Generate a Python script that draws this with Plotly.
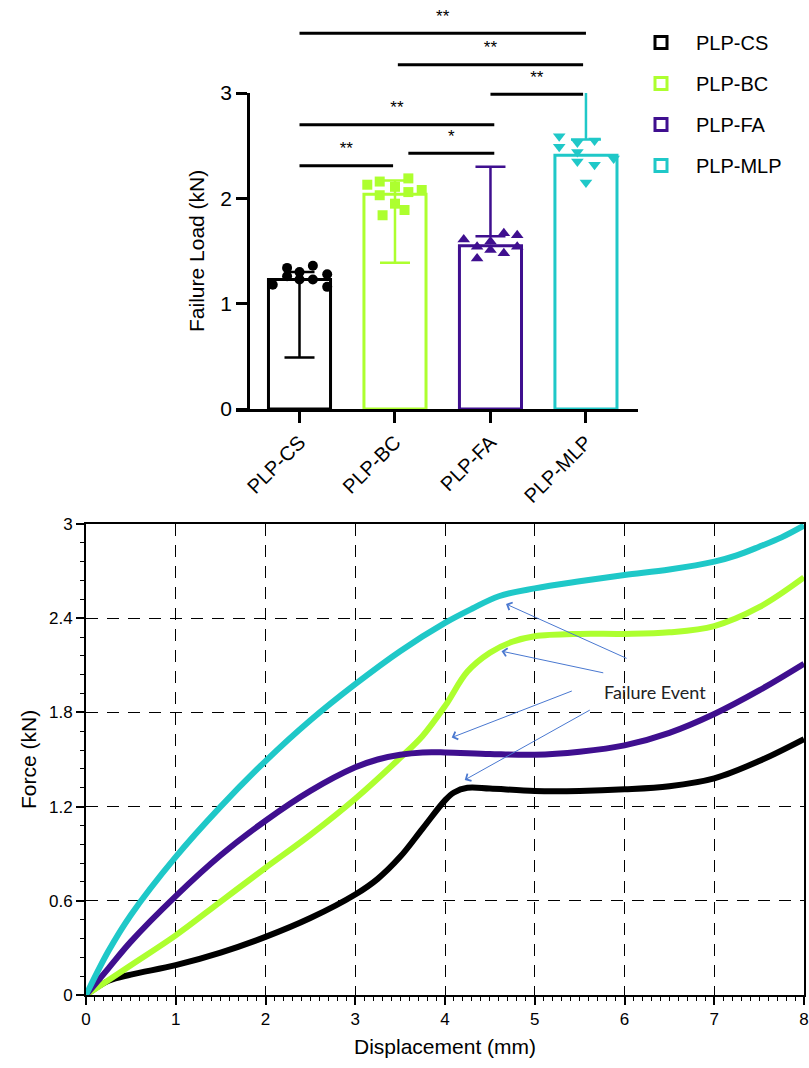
import plotly.graph_objects as go

W, H = 809, 1068

# ---------------- top chart data ----------------
groups = ["PLP-CS", "PLP-BC", "PLP-FA", "PLP-MLP"]
colors = ["#000000", "#ADFF2F", "#3F0F8F", "#1FC8C8"]
means = [1.23, 2.04, 1.55, 2.41]
err_lo = [0.49, 1.39, 1.64, 2.56]
err_hi = [1.30, 2.17, 2.30, 3.10]

cs_pts = [1.18, 1.34, 1.26, 1.30, 1.23, 1.36, 1.23, 1.28, 1.16]
bc_pts = [2.13, 2.16, 2.03, 2.11, 1.95, 1.84, 1.89, 2.19, 2.06, 2.08]
fa_pts = [1.61, 1.54, 1.43, 1.51, 1.59, 1.67, 1.48, 1.65, 1.54]
mlp_pts = [2.59, 2.49, 2.53, 2.44, 2.35, 2.55, 2.32, 2.15, 2.38]

sig_y = [2.31, 2.43, 2.70, 2.99, 3.27, 3.57]
sig_x0 = [0, 1.14, 0, 2.0, 1.03, 0]
sig_x1 = [0.98, 2.04, 2.04, 2.97, 2.97, 3.0]
sig_txt = ["**", "*", "**", "**", "**", "**"]

# ---------------- bottom chart data ----------------
mlp_x = [0, 0.25, 0.5, 1.0, 1.5, 2.0, 2.5, 3.0, 3.5, 4.0, 4.3, 4.6, 5.0, 5.5, 6.0, 6.5, 7.0, 7.25, 7.5, 7.75, 8.0]
mlp_y = [0, 0.28, 0.51, 0.88, 1.20, 1.49, 1.75, 1.98, 2.19, 2.37, 2.46, 2.54, 2.59, 2.635, 2.675, 2.71, 2.76, 2.80, 2.855, 2.915, 2.99]
bc_x = [0, 0.5, 1.0, 1.5, 2.0, 2.5, 3.0, 3.5, 3.75, 4.0, 4.25, 4.5, 4.75, 5.0, 5.5, 6.0, 6.5, 7.0, 7.5, 8.0]
bc_y = [0, 0.19, 0.38, 0.595, 0.81, 1.02, 1.25, 1.51, 1.65, 1.84, 2.06, 2.18, 2.25, 2.285, 2.30, 2.30, 2.31, 2.35, 2.47, 2.66]
fa_x = [0, 0.25, 0.5, 1.0, 1.5, 2.0, 2.5, 3.0, 3.25, 3.5, 3.75, 4.0, 4.5, 5.0, 5.5, 6.0, 6.5, 7.0, 7.5, 8.0]
fa_y = [0, 0.17, 0.34, 0.63, 0.89, 1.11, 1.30, 1.45, 1.50, 1.53, 1.545, 1.545, 1.535, 1.53, 1.55, 1.59, 1.67, 1.79, 1.94, 2.11]
cs_x = [0, 0.25, 0.5, 1.0, 1.5, 2.0, 2.5, 3.0, 3.25, 3.5, 3.75, 4.0, 4.1, 4.25, 4.5, 5.0, 5.5, 6.0, 6.5, 7.0, 7.5, 8.0]
cs_y = [0, 0.09, 0.13, 0.19, 0.27, 0.37, 0.49, 0.64, 0.74, 0.88, 1.06, 1.24, 1.29, 1.32, 1.315, 1.30, 1.30, 1.31, 1.33, 1.38, 1.49, 1.63]

# failure event arrows: (head x, head y, tail x, tail y)
arrow_head_x = [4.68, 4.63, 4.075, 4.22]
arrow_head_y = [2.49, 2.19, 1.64, 1.37]
arrow_tail_x = [6.04, 5.78, 5.43, 5.63]
arrow_tail_y = [2.14, 2.05, 1.94, 1.82]

force_ticks = [0, 0.6, 1.2, 1.8, 2.4, 3]
force_labels = ["0", "0.6", "1.2", "1.8", "2.4", "3"]

# ---------------- figure ----------------
FONT = "Arial, Liberation Sans, sans-serif"
fig = go.Figure()


def px_x(p):
    return p / W


def px_y(p):
    return 1 - p / H


# bars (on x / y2)
for i, g in enumerate(groups):
    fig.add_trace(go.Bar(
        x=[i], y=[means[i]], width=0.65, name=g,
        marker=dict(color="white", line=dict(color=colors[i], width=3)),
        xaxis="x", yaxis="y2", showlegend=True, legendgroup=g,
    ))

# error whiskers
for i, g in enumerate(groups):
    fig.add_trace(go.Scatter(
        x=[i], y=[err_lo[i]], mode="markers", marker=dict(size=1, opacity=0),
        error_y=dict(type="data", symmetric=False, array=[err_hi[i] - err_lo[i]],
                     arrayminus=[0], color=colors[i], thickness=2.5, width=15),
        xaxis="x", yaxis="y2", showlegend=False, hoverinfo="skip",
    ))

# individual points
jitter = {
    0: [-0.28, -0.13, -0.13, 0.0, 0.0, 0.14, 0.14, 0.29, 0.29],
    1: [-0.29, -0.16, -0.16, 0.0, 0.0, -0.13, 0.1, 0.14, 0.14, 0.28],
    2: [-0.28, -0.14, -0.14, 0.0, 0.0, 0.14, 0.14, 0.28, 0.28],
    3: [-0.28, -0.28, -0.09, -0.09, -0.09, 0.09, 0.09, 0.0, 0.29],
}
pts = [cs_pts, bc_pts, fa_pts, mlp_pts]
symbols = ["circle", "square", "triangle-up", "triangle-down"]
sizes = [10, 10, 11, 11]
for i in range(4):
    fig.add_trace(go.Scatter(
        x=[i + j for j in jitter[i]], y=pts[i], mode="markers",
        marker=dict(symbol=symbols[i], size=sizes[i], color=colors[i], line=dict(width=0)),
        xaxis="x", yaxis="y2", showlegend=False, hoverinfo="skip", cliponaxis=False,
    ))

# significance lines
for k in range(len(sig_y)):
    fig.add_trace(go.Scatter(
        x=[sig_x0[k], sig_x1[k]], y=[sig_y[k], sig_y[k]], mode="lines",
        line=dict(color="black", width=3), xaxis="x", yaxis="y",
        showlegend=False, hoverinfo="skip",
    ))
    fig.add_trace(go.Scatter(
        x=[(sig_x0[k] + sig_x1[k]) / 2], y=[sig_y[k] + 0.15], mode="text",
        text=[sig_txt[k]], textfont=dict(size=17, color="black", family=FONT),
        textposition="middle center", xaxis="x", yaxis="y",
        showlegend=False, hoverinfo="skip", cliponaxis=False,
    ))

# bottom curves
curves = [(cs_x, cs_y, colors[0]), (bc_x, bc_y, colors[1]),
          (fa_x, fa_y, colors[2]), (mlp_x, mlp_y, colors[3])]
for cx, cy, col in curves:
    fig.add_trace(go.Scatter(
        x=cx, y=cy, mode="lines", line=dict(color=col, width=6, shape="spline", smoothing=1.0),
        xaxis="x2", yaxis="y3", showlegend=False, hoverinfo="skip",
    ))

annotations = []
for k in range(4):
    annotations.append(dict(
        x=arrow_head_x[k], y=arrow_head_y[k], ax=arrow_tail_x[k], ay=arrow_tail_y[k],
        xref="x2", yref="y3", axref="x2", ayref="y3", text="", showarrow=True,
        arrowhead=4, arrowsize=1.6, arrowwidth=1, arrowcolor="#4A78D0",
    ))
annotations.append(dict(
    x=6.34, y=1.93, xref="x2", yref="y3", text="Failure Event", showarrow=False,
    xanchor="center", yanchor="middle",
    font=dict(family="Lato, Open Sans, sans-serif", size=18, color="#222222"),
))
annotations.append(dict(
    x=px_x(197), y=px_y(251), xref="paper", yref="paper", text="Failure Load (kN)",
    xanchor="center", yanchor="middle",
    textangle=-90, showarrow=False, font=dict(family=FONT, size=21, color="black"),
))
annotations.append(dict(
    x=px_x(28), y=px_y(760), xref="paper", yref="paper", text="Force (kN)",
    xanchor="center", yanchor="middle",
    textangle=-90, showarrow=False, font=dict(family=FONT, size=21, color="black"),
))
annotations.append(dict(
    x=px_x(445), y=px_y(1046), xref="paper", yref="paper", text="Displacement (mm)",
    xanchor="center", yanchor="middle",
    showarrow=False, font=dict(family=FONT, size=21, color="black"),
))

top_bottom = px_y(409)
fig.update_layout(
    width=W, height=H, margin=dict(l=0, r=0, t=0, b=0, autoexpand=False),
    paper_bgcolor="white", plot_bgcolor="rgba(0,0,0,0)",
    font=dict(family=FONT, color="black"),
    barmode="overlay",
    xaxis=dict(
        domain=[px_x(236), px_x(638)], range=[-0.665, 3.545], anchor="y2",
        tickvals=[0, 1, 2, 3], ticktext=groups, tickangle=-45,
        ticks="outside", ticklen=11, tickwidth=2.5, tickcolor="black",
        showline=True, linecolor="black", linewidth=2.5,
        showgrid=False, zeroline=False, tickfont=dict(size=20, family=FONT),
    ),
    yaxis=dict(
        domain=[top_bottom, px_y(10)], range=[0, 3.79], visible=False,
        anchor="x", fixedrange=True,
    ),
    yaxis2=dict(
        domain=[top_bottom, px_y(409 - 3 * 105.3)], range=[0, 3.0],
        anchor="free", position=px_x(248),
        tickvals=[0, 1, 2, 3], ticks="outside", ticklen=11, tickwidth=2.5, tickcolor="black",
        showline=True, linecolor="black", linewidth=2.5, showgrid=False, zeroline=False,
        tickfont=dict(size=21, family=FONT),
    ),
    xaxis2=dict(
        domain=[px_x(86), px_x(804)], range=[0, 8], anchor="y3",
        tickvals=list(range(9)), ticks="outside", ticklen=8, tickwidth=1.5, tickcolor="black",
        minor=dict(dtick=0.1, ticks="outside", ticklen=4, tickwidth=1, tickcolor="black", showgrid=False),
        showline=True, mirror=True, linecolor="black", linewidth=2,
        showgrid=True, gridcolor="black", gridwidth=1.3, griddash="12px,9px",
        zeroline=False, tickfont=dict(size=17, family=FONT),
    ),
    yaxis3=dict(
        domain=[px_y(995), px_y(524)], range=[0, 3], anchor="x2",
        tickvals=force_ticks, ticktext=force_labels, ticks="outside", ticklen=8, tickwidth=1.5,
        tickcolor="black",
        minor=dict(dtick=0.12, tick0=0, ticks="outside", ticklen=4, tickwidth=1, tickcolor="black", showgrid=False),
        showline=True, mirror=True, linecolor="black", linewidth=2,
        showgrid=True, gridcolor="black", gridwidth=1.3, griddash="12px,9px",
        zeroline=False, tickfont=dict(size=17, family=FONT),
    ),
    legend=dict(
        x=px_x(626), y=px_y(23), xanchor="left", yanchor="top",
        font=dict(size=20, family=FONT, color="black"), tracegroupgap=12,
        bgcolor="rgba(0,0,0,0)", itemwidth=60,
    ),
    annotations=annotations,
)

fig.write_html(
    "out.html",
    config={"displayModeBar": False},
    post_script="document.body.style.margin='0px';document.body.style.overflow='hidden';",
)
